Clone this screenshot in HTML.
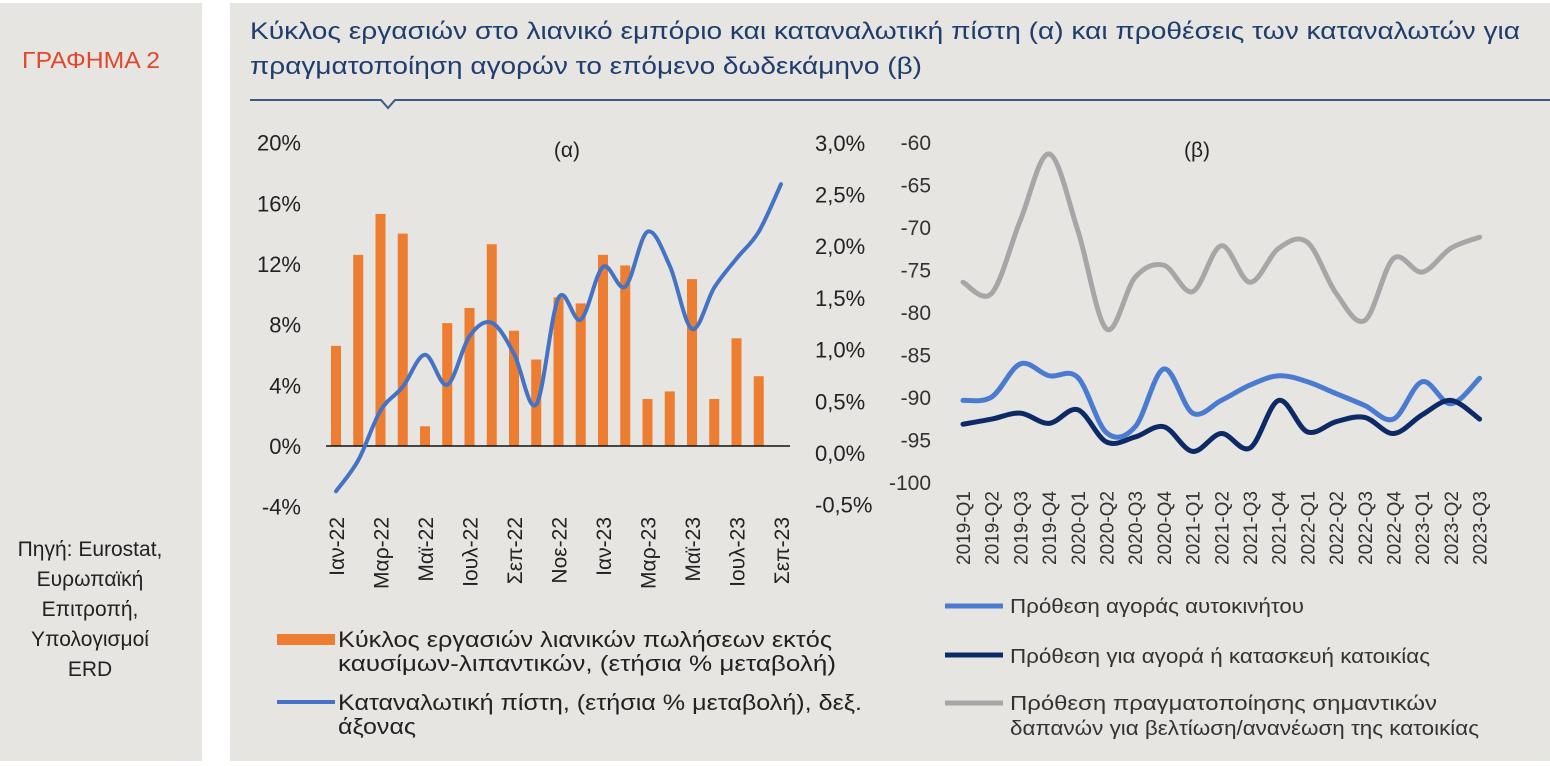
<!DOCTYPE html>
<html><head><meta charset="utf-8">
<style>
html,body{margin:0;padding:0;background:#fff;}
body{width:1550px;height:761px;overflow:hidden;font-family:"Liberation Sans","DejaVu Sans",sans-serif;}
svg text{font-family:"Liberation Sans","DejaVu Sans",sans-serif;}
</style></head>
<body>
<svg id="c" width="1550" height="761" xmlns="http://www.w3.org/2000/svg">
<rect x="0" y="3" width="202" height="758" fill="#e6e5e1"/>
<rect x="230" y="3" width="1320" height="758" fill="#e6e5e1"/>
<text x="22" y="68" font-size="23" fill="#e0472f" textLength="138" lengthAdjust="spacingAndGlyphs">ΓΡΑΦΗΜΑ 2</text>
<g font-size="21" fill="#222" text-anchor="middle">
<text x="90" y="556">Πηγή: Eurostat,</text>
<text x="90" y="586">Ευρωπαϊκή</text>
<text x="90" y="616">Επιτροπή,</text>
<text x="90" y="646">Υπολογισμοί</text>
<text x="90" y="676">ERD</text>
</g>
<g font-size="24" fill="#1f3d6e">
<text x="250" y="39" textLength="1270" lengthAdjust="spacingAndGlyphs">Κύκλος εργασιών στο λιανικό εμπόριο και καταναλωτική πίστη (α) και προθέσεις των καταναλωτών για</text>
<text x="250" y="74" textLength="672" lengthAdjust="spacingAndGlyphs">πραγματοποίηση αγορών το επόμενο δωδεκάμηνο (β)</text>
</g>
<path d="M250 100 H381 L388 108 L395 100 H1550" fill="none" stroke="#3a5a85" stroke-width="2"/>
<g id="ga"></g>
<g id="gb"></g>
<g font-size="22" fill="#222">
<rect x="277" y="634" width="58" height="11" fill="#ed7d31"/>
<text x="338" y="647" textLength="494" lengthAdjust="spacingAndGlyphs">Κύκλος εργασιών λιανικών πωλήσεων εκτός</text>
<text x="338" y="671" textLength="498" lengthAdjust="spacingAndGlyphs">καυσίμων-λιπαντικών, (ετήσια % μεταβολή)</text>
<line x1="277" y1="702" x2="335" y2="702" stroke="#4472c4" stroke-width="4"/>
<text x="338" y="710" textLength="524" lengthAdjust="spacingAndGlyphs">Καταναλωτική πίστη, (ετήσια % μεταβολή), δεξ.</text>
<text x="338" y="734" textLength="78" lengthAdjust="spacingAndGlyphs">άξονας</text>
</g>
<g font-size="20" fill="#333">
<line x1="945" y1="606" x2="1003" y2="606" stroke="#4a7bd0" stroke-width="5"/>
<text x="1010" y="613" textLength="294" lengthAdjust="spacingAndGlyphs">Πρόθεση αγοράς αυτοκινήτου</text>
<line x1="945" y1="655" x2="1003" y2="655" stroke="#0d2a66" stroke-width="5"/>
<text x="1010" y="663" textLength="420" lengthAdjust="spacingAndGlyphs">Πρόθεση για αγορά ή κατασκευή κατοικίας</text>
<line x1="945" y1="703" x2="1003" y2="703" stroke="#a6a6a6" stroke-width="5"/>
<text x="1010" y="710" textLength="427" lengthAdjust="spacingAndGlyphs">Πρόθεση πραγματοποίησης σημαντικών</text>
<text x="1010" y="735" textLength="469" lengthAdjust="spacingAndGlyphs">δαπανών για βελτίωση/ανανέωση της κατοικίας</text>
</g>
</svg>
<script>
const monthLabels=["Ιαν-22","Μαρ-22","Μαϊ-22","Ιουλ-22","Σεπ-22","Νοε-22","Ιαν-23","Μαρ-23","Μαϊ-23","Ιουλ-23","Σεπ-23"];
const salesGrowth=[6.6,12.6,15.3,14.0,1.3,8.1,9.1,13.3,7.6,5.7,9.8,9.4,12.6,11.9,3.1,3.6,11.0,3.1,7.1,4.6];
const creditGrowth=[-0.37,-0.07,0.41,0.64,0.95,0.66,1.13,1.26,0.96,0.47,1.5,1.29,1.8,1.61,2.14,1.81,1.2,1.6,1.88,2.14,2.6];
const leftTicks=[20,16,12,8,4,0,-4];
const rightTicks=[3.0,2.5,2.0,1.5,1.0,0.5,0.0,-0.5];
const quarters=["2019-Q1","2019-Q2","2019-Q3","2019-Q4","2020-Q1","2020-Q2","2020-Q3","2020-Q4","2021-Q1","2021-Q2","2021-Q3","2021-Q4","2022-Q1","2022-Q2","2022-Q3","2022-Q4","2023-Q1","2023-Q2","2023-Q3"];
const renovation=[-76.5,-77.8,-69.2,-61.4,-70.4,-82,-75.9,-74.5,-77.6,-72.2,-76.5,-72.5,-71.8,-77.8,-81,-73.7,-75.3,-72.5,-71.2];
const carPurchase=[-90.4,-90,-86.1,-87.5,-87.7,-94.2,-93.5,-86.7,-91.9,-90.4,-88.6,-87.5,-88.2,-89.6,-91,-92.6,-88.2,-90.8,-87.8];
const housePurchase=[-93.2,-92.6,-91.9,-93.1,-91.5,-95.3,-94.7,-93.5,-96.4,-94.3,-96,-90.4,-94.1,-92.9,-92.4,-94.3,-92.1,-90.4,-92.6];
const bTicks=[-60,-65,-70,-75,-80,-85,-90,-95,-100];

const NS="http://www.w3.org/2000/svg";
function mk(p,tag,attrs,txt){const e=document.createElementNS(NS,tag);for(const k in attrs)e.setAttribute(k,attrs[k]);if(txt!==undefined)e.textContent=txt;p.appendChild(e);return e;}
function smooth(pts){let d="M"+pts[0][0]+" "+pts[0][1];for(let i=0;i<pts.length-1;i++){const p0=pts[Math.max(i-1,0)],p1=pts[i],p2=pts[i+1],p3=pts[Math.min(i+2,pts.length-1)];const t=6;d+=" C"+(p1[0]+(p2[0]-p0[0])/t)+" "+(p1[1]+(p2[1]-p0[1])/t)+" "+(p2[0]-(p3[0]-p1[0])/t)+" "+(p2[1]-(p3[1]-p1[1])/t)+" "+p2[0]+" "+p2[1];}return d;}

// chart a
const ga=document.getElementById('ga');
const xA=i=>336+i*22.25;
const yL=v=>446-v*15.17;
const yR=v=>453-v*103.4;
const la=mk(ga,'text',{x:567,y:157,'font-size':21,fill:'#222','text-anchor':'middle'},'(α)');


leftTicks.forEach(v=>{const t=mk(ga,'text',{x:301,y:yL(v)+8,'font-size':22,fill:'#222','text-anchor':'end'},v+'%');

});
rightTicks.forEach(v=>{const t=mk(ga,'text',{x:815,y:yR(v)+8,'font-size':22,fill:'#222'},v.toFixed(1).replace('.',',')+'%');

});
salesGrowth.forEach((v,i)=>{const b=mk(ga,'rect',{x:xA(i)-5,y:Math.min(yL(v),yL(0)),width:10,height:Math.abs(yL(v)-yL(0)),fill:'#ed7d31'});

});
const z=mk(ga,'line',{x1:326,x2:790,y1:yL(0),y2:yL(0),stroke:'#111','stroke-width':1.5});


const cl=mk(ga,'path',{d:smooth(creditGrowth.map((v,i)=>[xA(i),yR(v)])),fill:'none',stroke:'#4472c4','stroke-width':4,'stroke-linecap':'round'});


monthLabels.forEach((s,i)=>{const x=xA(i*2)+8;const t=mk(ga,'text',{x:x,y:517,'font-size':21,fill:'#222','text-anchor':'end',transform:'rotate(-90 '+x+' 517)'},s);

});

// chart b
const gb=document.getElementById('gb');
const xB=i=>963+i*28.7;
const yB=v=>142-(v+60)*8.5;
const lb=mk(gb,'text',{x:1197,y:157,'font-size':21,fill:'#222','text-anchor':'middle'},'(β)');


bTicks.forEach(v=>{const t=mk(gb,'text',{x:931,y:yB(v)+8,'font-size':21,fill:'#333','text-anchor':'end'},String(v));

});
[[renovation,'#a6a6a6','renovation-line'],[carPurchase,'#4a7bd0','car-line'],[housePurchase,'#0d2a66','house-line']].forEach(([arr,col,nm])=>{
const p=mk(gb,'path',{d:smooth(arr.map((v,i)=>[xB(i),yB(v)])),fill:'none',stroke:col,'stroke-width':5,'stroke-linecap':'round'});

});
quarters.forEach((s,i)=>{const x=xB(i)+7;const t=mk(gb,'text',{x:x,y:491,'font-size':19,fill:'#333','text-anchor':'end',transform:'rotate(-90 '+x+' 491)'},s);

});
</script>
</body></html>
